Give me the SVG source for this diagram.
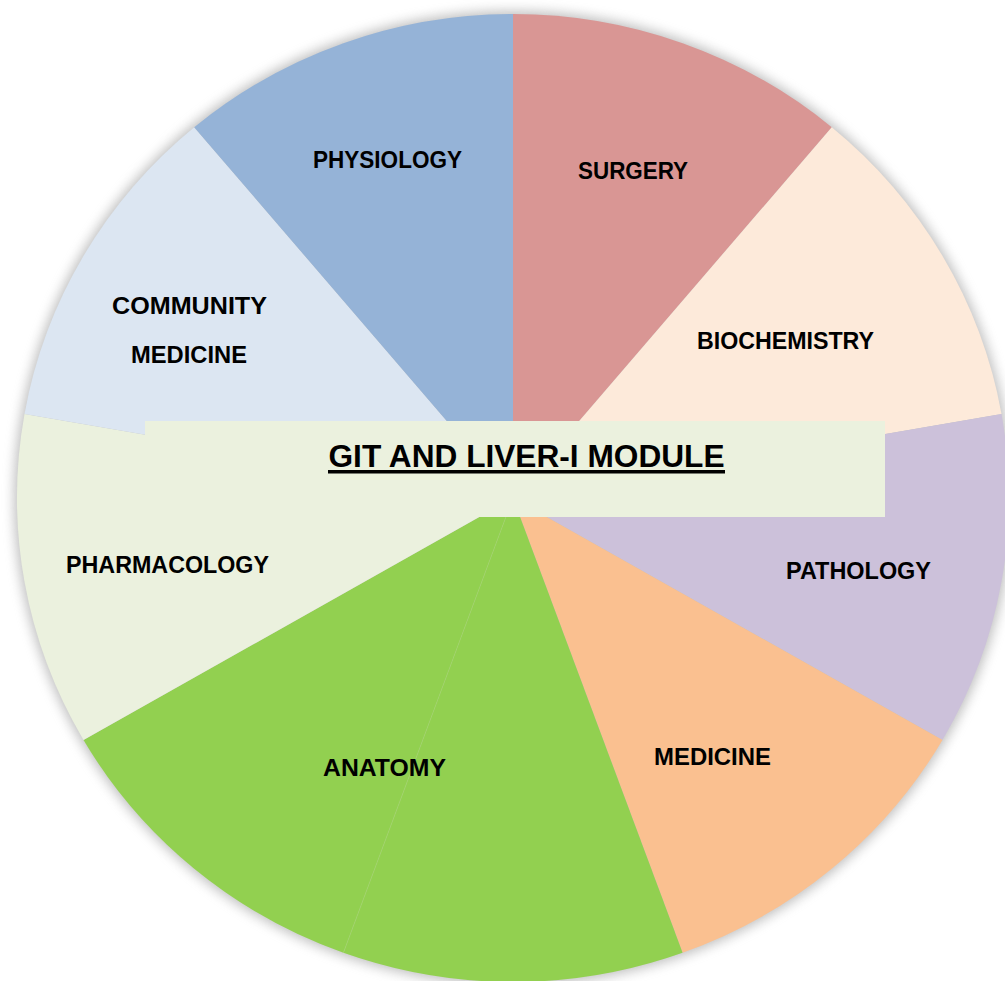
<svg xmlns="http://www.w3.org/2000/svg" width="1005" height="981" viewBox="0 0 1005 981">
  <style>
    .lbl { font-family: "Liberation Sans", Arial, sans-serif; font-weight: bold; font-size: 23px; fill: #000; text-anchor: middle; }
    .title { font-family: "Liberation Sans", Arial, sans-serif; font-weight: bold; font-size: 31px; fill: #000; text-anchor: middle; }
  </style>
  <defs>
    <filter id="shadow" x="-10%" y="-10%" width="120%" height="120%">
      <feGaussianBlur stdDeviation="6"/>
    </filter>
  </defs>
  <rect width="1005" height="981" fill="#ffffff"/>
  <ellipse cx="513" cy="498" rx="499" ry="487" fill="#8c8c8c" opacity="0.55" filter="url(#shadow)"/>

  <g id="surgery">
    <path d="M513 498 L513 14 A496 484 0 0 1 831.8 127.2 Z" fill="#D99694"/>
  </g>
  <g id="biochemistry">
    <path d="M513 498 L831.8 127.2 A496 484 0 0 1 1001.5 414 Z" fill="#FDEADA"/>
  </g>
  <g id="pathology">
    <path d="M513 498 L1001.5 414 A496 484 0 0 1 942.5 740 Z" fill="#CCC1DA"/>
  </g>
  <g id="medicine">
    <path d="M513 498 L942.5 740 A496 484 0 0 1 682.6 952.8 Z" fill="#FAC090"/>
  </g>
  <g id="anatomy">
    <path d="M513 498 L682.6 952.8 A496 484 0 0 1 343.4 952.8 Z" fill="#92D050"/>
    <path d="M513 498 L343.4 952.8 A496 484 0 0 1 83.5 740 Z" fill="#92D050"/>
    <line x1="513" y1="498" x2="343.4" y2="952.8" stroke="#a6d971" stroke-width="0.6"/>
  </g>
  <g id="pharmacology">
    <path d="M513 498 L83.5 740 A496 484 0 0 1 24.5 414 Z" fill="#EBF1DE"/>
  </g>
  <g id="community-medicine">
    <path d="M513 498 L24.5 414 A496 484 0 0 1 194.2 127.2 Z" fill="#DCE6F2"/>
  </g>
  <g id="physiology">
    <path d="M513 498 L194.2 127.2 A496 484 0 0 1 513 14 Z" fill="#95B3D7"/>
  </g>

  <g id="title">
    <rect x="145" y="421" width="740" height="96" fill="#EBF1DE"/>
    <text class="title" x="526.5" y="467" textLength="396" lengthAdjust="spacingAndGlyphs">GIT AND LIVER-I MODULE</text>
    <rect x="328" y="470" width="397" height="3.5" fill="#000"/>
  </g>

  <g id="labels">
    <text class="lbl" x="387.5" y="168" textLength="149" lengthAdjust="spacingAndGlyphs">PHYSIOLOGY</text>
    <text class="lbl" x="633" y="179" textLength="110" lengthAdjust="spacingAndGlyphs">SURGERY</text>
    <text class="lbl" x="785.5" y="349" textLength="177" lengthAdjust="spacingAndGlyphs">BIOCHEMISTRY</text>
    <text class="lbl" x="189.5" y="314" textLength="155" lengthAdjust="spacingAndGlyphs">COMMUNITY</text>
    <text class="lbl" x="189" y="363" textLength="116" lengthAdjust="spacingAndGlyphs">MEDICINE</text>
    <text class="lbl" x="858.5" y="579" textLength="145" lengthAdjust="spacingAndGlyphs">PATHOLOGY</text>
    <text class="lbl" x="167.5" y="573" textLength="203" lengthAdjust="spacingAndGlyphs">PHARMACOLOGY</text>
    <text class="lbl" x="712.5" y="765" textLength="117" lengthAdjust="spacingAndGlyphs">MEDICINE</text>
    <text class="lbl" x="384.5" y="776" textLength="123" lengthAdjust="spacingAndGlyphs">ANATOMY</text>
  </g>

  <g id="connectors"/>
</svg>
